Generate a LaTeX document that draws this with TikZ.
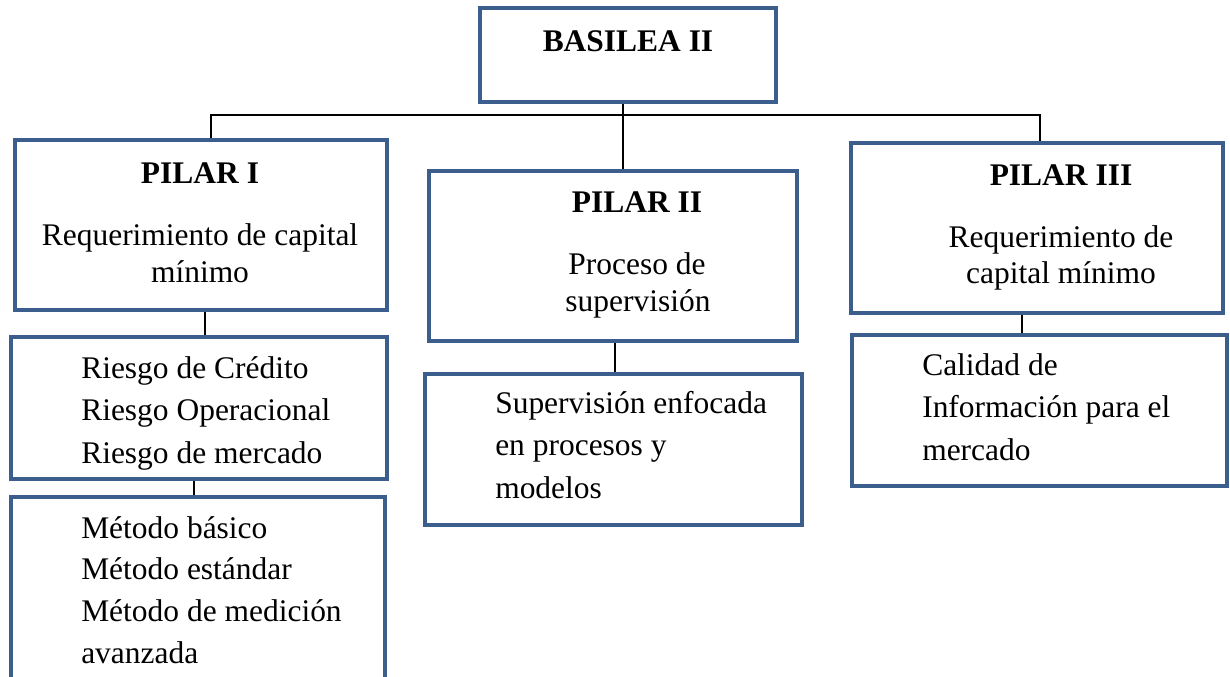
\documentclass[tikz,border=0pt]{standalone}
\usepackage{fontspec}
\setmainfont{Liberation Serif}
\usetikzlibrary{positioning}
\definecolor{azulcaja}{RGB}{59,94,140}

\begin{document}
\begin{tikzpicture}[x=0.75pt, y=-0.75pt,
		caja/.style 2 args={draw=azulcaja, line width=3.5pt, rectangle, inner sep=0pt,
			minimum width=#1*0.75pt, minimum height=#2*0.75pt},
		conector/.style={line width=2.1pt, black},
		texto/.style={inner sep=0pt, font=\fontsize{23.6}{30}\selectfont},
		titulo/.style={texto, font=\fontsize{23.6}{30}\selectfont\bfseries}]
				\useasboundingbox (0,0) rectangle (1230,676);

				% cajas
				\node[caja={296}{94}] (basilea) at (628,55) {};
				\node[caja={372}{170}] (pilarI) at (201,225) {};
				\node[caja={368}{170}] (pilarII) at (613,256) {};
				\node[caja={372}{170}] (pilarIII) at (1037,228) {};
				\node[caja={376}{142}] (riesgos) at (199,408) {};
				\node[caja={374}{196}] (metodos) at (198,595) {};
				\node[caja={377}{151}] (supervision) at (613.5,449.5) {};
				\node[caja={375}{151}] (calidad) at (1039.5,410.5) {};

				% textos
				\node[titulo, anchor=base] (tbasilea) at (628,51) {BASILEA II};

				\node[titulo, anchor=base] (tpilarI) at (200,183) {PILAR I};
				\node[texto, anchor=base] (reqI) at (200,245) {Requerimiento de capital};
				\node[texto, anchor=base] (minI) at (200,282) {mínimo};

				\node[titulo, anchor=base] (tpilarII) at (637,212) {PILAR II};
				\node[texto, anchor=base] (proceso) at (637,274) {Proceso de};
				\node[texto, anchor=base] (superv) at (638,311) {supervisión};

				\node[titulo, anchor=base] (tpilarIII) at (1061,185) {PILAR III};
				\node[texto, anchor=base] (reqIII) at (1061,247) {Requerimiento de};
				\node[texto, anchor=base] (minIII) at (1061,283) {capital mínimo};

				\foreach \t [count=\i from 0] in {Riesgo de Crédito, Riesgo Operacional, Riesgo de mercado}
					\node[texto, anchor=base west] (riesgo-\i) at (81,378+42.5*\i) {\t};
				\foreach \t [count=\i from 0] in {Método básico, Método estándar, Método de medición, avanzada}
					\node[texto, anchor=base west] (metodo-\i) at (81,538+41.7*\i) {\t};
				\foreach \t [count=\i from 0] in {Supervisión enfocada, en procesos y, modelos}
					\node[texto, anchor=base west] (enfoque-\i) at (495,413+42.5*\i) {\t};
				\foreach \t [count=\i from 0] in {Calidad de, Información para el, mercado}
					\node[texto, anchor=base west] (info-\i) at (922,375+42.5*\i) {\t};

				% conectores
				\coordinate (izq) at (211,115);
				\coordinate (centro) at (623,115);
				\coordinate (der) at (1040,115);
				\draw[conector] (pilarI.north -| izq) -- (izq) -- (der) -- (pilarIII.north -| der);
				\draw[conector] (basilea.south -| centro) -- (pilarII.north -| centro);

				\coordinate (bajaI) at ([xshift=3pt]pilarI.south);
				\draw[conector] (bajaI) -- (bajaI |- riesgos.north);
				\coordinate (bajaR) at ([xshift=-3.75pt]riesgos.south);
				\draw[conector] (bajaR) -- (bajaR |- metodos.north);
				\coordinate (bajaII) at ([xshift=1.5pt]pilarII.south);
				\draw[conector] (bajaII) -- (bajaII |- supervision.north);
				\coordinate (bajaIII) at ([xshift=-11.25pt]pilarIII.south);
				\draw[conector] (bajaIII) -- (bajaIII |- calidad.north);
			\end{tikzpicture}
\end{document}
